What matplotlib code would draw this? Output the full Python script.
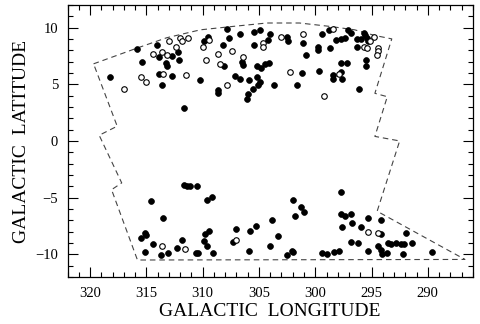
import numpy as np
import matplotlib
matplotlib.use("Agg")
import matplotlib.pyplot as plt
from matplotlib.ticker import MultipleLocator

## survey boundary (dashed)
bound_lon = [319.7, 315.8, 313.2, 310.2, 307.3, 304.3, 301.4, 298.7, 296.5, 294.7, 293.2,
             294.7, 293.6, 294.7, 292.5, 294.5, 286.7, 315.8, 318.1, 317.2, 319.2, 317.6, 319.7]
bound_lat = [6.8, 8.2, 9.1, 9.8, 10.1, 10.4, 10.4, 10.1, 9.8, 9.3, 9.0,
             4.2, 3.9, 0.4, 0.0, -6.2, -10.45, -10.5, -4.3, -3.7, 0.5, 1.3, 6.8]

## filled symbols
fill_lon = [318.2, 315.8, 315.4, 314.1, 313.9, 313.3, 313.2, 312.7, 312.2, 312.1,
            313.9, 313.6, 312.7, 311.7, 310.2, 309.9, 307.8, 306.7, 305.4, 304.9,
            304.0, 304.2, 302.5, 302.4, 309.5, 308.2, 307.7, 305.4, 301.1, 300.8,
            299.8, 299.8, 299.4, 298.7, 298.8, 298.2, 297.7, 297.4, 297.1, 296.8,
            296.3, 295.9, 295.7, 295.6, 295.4, 296.3, 295.3, 297.7, 297.2, 295.5,
            295.5, 297.7, 297.6, 296.1, 306.5, 306.4, 308.1, 305.2, 304.8, 304.5,
            304.1, 307.1, 306.7, 305.9, 305.2, 304.9, 305.1, 305.5, 308.6, 308.6,
            306.0, 306.1, 303.7, 301.6, 301.2, 299.7, 298.4, 298.4,
            311.7, 311.4, 311.1, 310.5, 309.6, 309.2, 314.6, 313.5, 303.8, 305.3,
            305.8, 307.0, 309.4, 309.8, 309.9, 309.6, 309.1, 310.6, 310.4, 311.8,
            312.3, 313.1, 313.7, 315.1, 315.0, 315.5, 314.4, 315.1, 307.3, 303.3,
            304.0, 305.9, 302.5, 302.0, 301.3, 301.0, 301.8, 297.7, 297.7, 297.4,
            296.8, 296.7, 297.6, 295.9, 295.3, 294.2, 294.2, 291.9, 296.8, 296.2,
            293.5, 293.3, 292.8, 292.4, 292.1, 291.4, 294.4, 294.2, 294.1, 293.6,
            292.2, 289.6, 295.3, 302.1, 302.0, 299.4, 299.0, 298.3, 297.9]
fill_lat = [5.6, 8.1, 7.0, 8.5, 7.4, 6.9, 6.6, 7.5, 7.8, 7.1,
            5.9, 4.9, 5.7, 2.9, 5.4, 8.8, 9.9, 9.4, 9.6, 9.8,
            9.4, 8.9, 9.2, 8.8, 9.2, 8.5, 9.1, 8.5, 8.6, 7.6,
            8.3, 8.0, 9.4, 8.2, 9.8, 8.9, 9.0, 9.1, 9.8, 9.5,
            9.0, 9.0, 9.5, 9.3, 9.1, 8.3, 8.8, 6.9, 6.9, 7.1,
            6.6, 6.1, 5.5, 4.6, 7.0, 6.7, 6.6, 6.6, 6.4, 6.8,
            6.9, 5.7, 5.5, 5.4, 5.6, 5.2, 4.9, 4.6, 4.5, 4.2,
            4.1, 3.7, 4.9, 4.9, 6.0, 6.2, 5.8, 5.5,
            -3.9, -4.0, -4.0, -4.0, -5.2, -4.9, -5.3, -6.8, -7.0, -7.5,
            -7.9, -7.8, -7.9, -8.2, -8.8, -9.3, -9.9, -9.9, -9.9, -8.7,
            -9.4, -9.9, -10.1, -8.1, -8.3, -8.6, -9.1, -9.8, -8.9, -8.4,
            -9.3, -9.7, -10.1, -5.2, -5.8, -6.3, -6.6, -4.5, -6.4, -6.6,
            -6.4, -7.2, -7.6, -7.6, -6.8, -7.0, -8.2, -8.1, -8.9, -9.0,
            -9.0, -9.1, -9.0, -9.1, -9.1, -9.0, -9.3, -9.6, -10.0, -9.9,
            -10.0, -9.8, -9.7, -9.7, -9.8, -9.9, -10.0, -9.8, -9.7]

## open symbols
open_lon = [317.0, 315.5, 315.0, 314.4, 313.6, 313.2, 313.5, 313.0, 312.4, 312.0,
            311.8, 311.3, 311.5, 310.0, 309.7, 309.4, 308.6, 307.4, 306.4, 308.5,
            307.8, 303.0, 301.1, 302.2, 299.2, 298.4, 297.9, 294.8, 295.7, 295.4,
            295.1, 294.4, 294.4, 294.5, 304.6, 304.6,
            313.6, 311.6, 307.0, 295.3, 294.4]
open_lat = [4.6, 5.6, 5.2, 7.7, 7.8, 7.6, 5.9, 8.8, 8.3, 9.1,
            8.8, 9.1, 5.8, 8.3, 7.1, 8.9, 7.7, 7.9, 7.4, 6.8,
            4.9, 9.2, 9.4, 6.1, 4.0, 9.9, 5.9, 9.2, 8.3, 8.2,
            8.8, 8.2, 7.9, 7.6, 8.6, 8.3,
            -9.3, -9.5, -8.7, -8.0, -8.1]

xticks = [320, 315, 310, 305, 300, 295, 290]
yticks = [-10, -5, 0, 5, 10]

plt.rcParams['font.family'] = ['Liberation Serif', 'DejaVu Serif']

fig = plt.figure(figsize=(4.8, 3.24), dpi=100)
ax = fig.add_axes([0.141, 0.145, 0.844, 0.840])

ax.plot(bound_lon, bound_lat, ls=(0, (5, 3.5)), color='#444444', lw=0.8)
ax.plot(fill_lon, fill_lat, 'o', ms=4.2, mfc='black', mec='black', mew=0.5, ls='none')
ax.plot(open_lon, open_lat, 'o', ms=4.0, mfc='white', mec='black', mew=0.8, ls='none')

ax.set_xlim(322, 286)
ax.set_ylim(-12, 12)
ax.set_xticks(xticks)
ax.set_yticks(yticks)
ax.xaxis.set_minor_locator(MultipleLocator(1))
ax.yaxis.set_minor_locator(MultipleLocator(1))
ax.tick_params(which='both', direction='in', top=True, right=True, labelsize=10.5, width=0.8)
ax.tick_params(which='major', length=7, pad=7)
ax.tick_params(which='minor', length=3.5)
for s in ax.spines.values():
    s.set_linewidth(0.9)

ax.set_xlabel('GALACTIC  LONGITUDE', fontsize=14, labelpad=2)
ax.set_ylabel('GALACTIC  LATITUDE', fontsize=14, labelpad=4)

fig.savefig('out.png', dpi=100)
